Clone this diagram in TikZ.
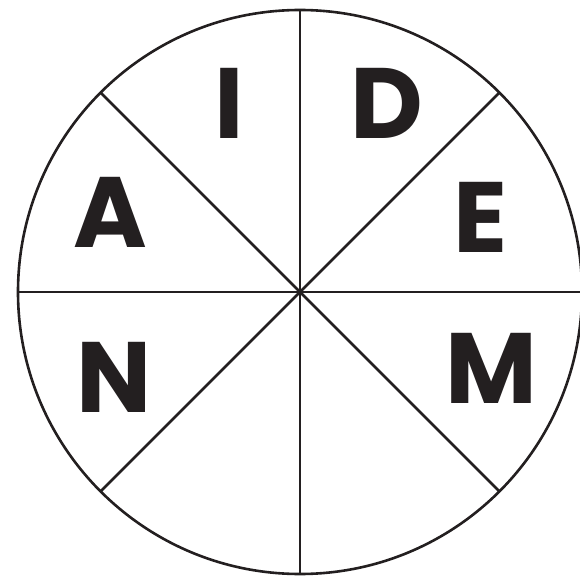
\documentclass[tikz,border=0pt]{standalone}
\usepackage{fontspec}
\setmainfont{Poppins}[BoldFont=* Bold]
\definecolor{ink}{HTML}{231F20}
\begin{document}
\begin{tikzpicture}[x=1pt,y=-1pt,
  seg/.style={draw=ink,line width=2.6pt},
  letter/.style={anchor=base,inner sep=0pt,text=ink,font=\fontsize{100}{100}\selectfont\bfseries}]
\useasboundingbox (0,0) rectangle (580,577);
\clip (0,0) rectangle (580,577);
\coordinate (c) at (300,292);
\draw[seg] (c) circle[radius=282];
\foreach \a in {0,45,...,315}{
  \draw[seg] (c) -- ++({282*cos(\a)},{282*sin(\a)});
}
\node[letter] (I) at (229.5,139) {I};
\node[letter] (D) at (386.5,139) {D};
\node[letter] (A) at (110,247) {A};
\node[letter] (E) at (481,252) {E};
\node[letter] (N) at (114.5,412) {N};
\node[letter] (M) at (491,403) {M};
\end{tikzpicture}
\end{document}
